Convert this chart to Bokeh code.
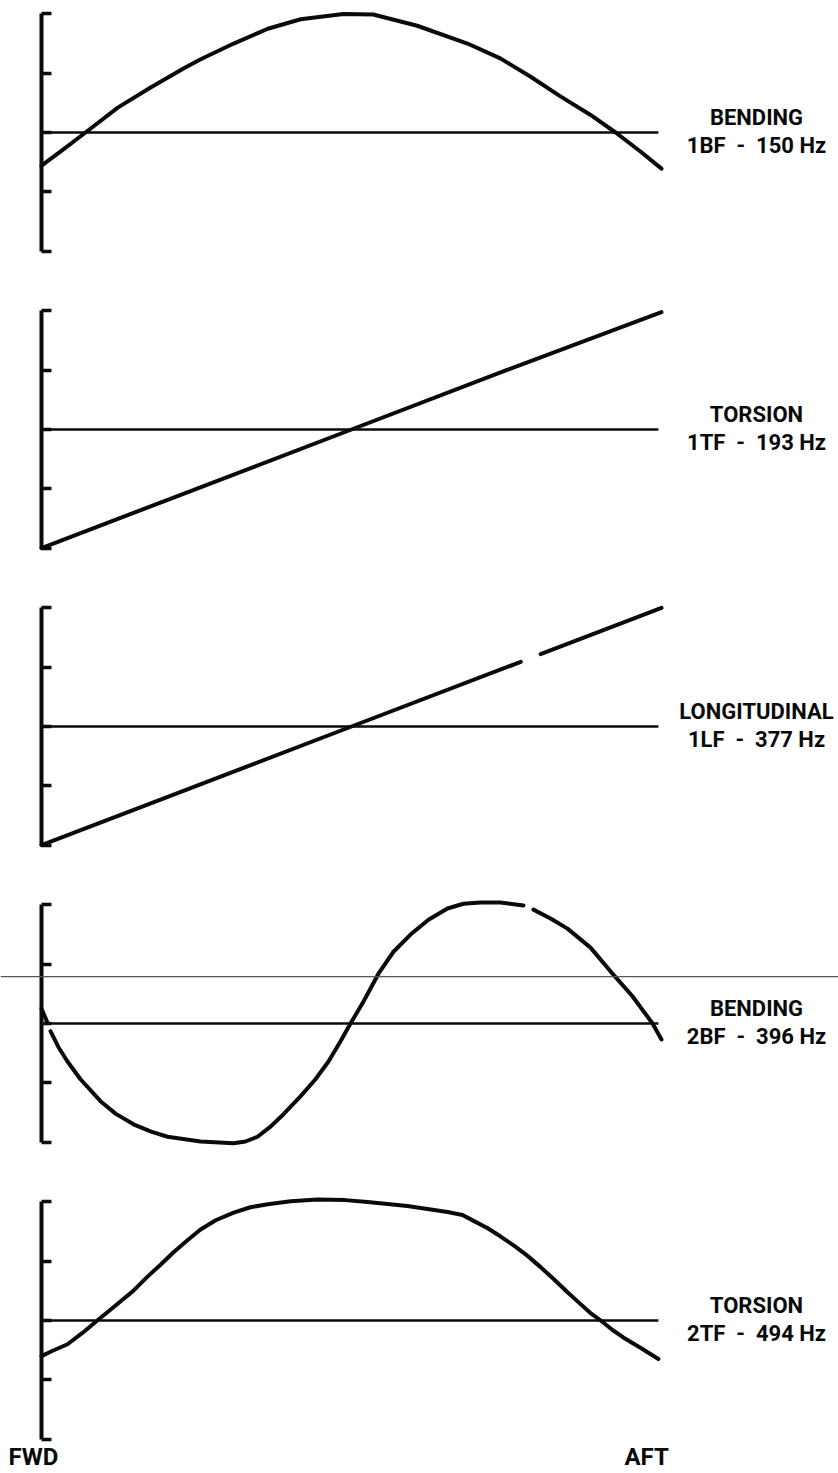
from bokeh.plotting import figure
from bokeh.layouts import column
from bokeh.models import LinearAxis, FixedTicker, Span, Range1d, ColumnDataSource
from bokeh.core.properties import value
from bokeh.embed import file_html
from bokeh.resources import INLINE

nan = float("nan")

# Stations along the blade, percent of span from FWD (0) to AFT (100),
# and normalized modal deflection in tick units (full scale = +/-2).
bend1_x = [0, 3.1, 7.1, 12.3, 17.6, 22.9, 25.6, 31.0, 36.5, 41.8, 48.7, 53.5, 60.6, 68.7,
           74.0, 78.9, 83.7, 88.5, 92.6, 96.6, 100]
bend1_y = [-0.56, -0.32, 0.0, 0.42, 0.76, 1.08, 1.23, 1.50, 1.75, 1.91, 2.0, 1.99, 1.80, 1.50,
           1.25, 0.94, 0.61, 0.30, 0.0, -0.32, -0.61]

tors1_x = [0, 25, 50, 75, 100]
tors1_y = [-2.0, -1.0, 0.0, 1.0, 1.98]

long1_x = [0, 25, 50, 77.3, nan, 80.5, 100]
long1_y = [-2.0, -1.0, 0.0, 1.09, nan, 1.22, 2.0]

bend2_x = [0, 0.9, nan, 1.45, 2.74, 4.19, 6.29, 9.52, 11.94, 14.84, 17.58, 20.32, 25.65, 30.97,
           32.90, 34.84, 36.94, 39.03, 41.77, 44.19, 46.29, 48.23, 49.84, 51.94, 54.35, 56.77,
           59.52, 62.42, 65.48, 68.06, 70.81, 74.03, 77.74, nan, 79.35, 82.10, 84.84, 88.55,
           91.77, 95.32, 98.55, 100]
bend2_y = [0.25, 0.03, nan, -0.13, -0.40, -0.64, -0.94, -1.31, -1.52, -1.70, -1.82, -1.91, -1.99, -2.02,
           -1.99, -1.91, -1.74, -1.53, -1.23, -0.94, -0.64, -0.30, 0.0, 0.37, 0.84, 1.21,
           1.50, 1.75, 1.94, 2.02, 2.04, 2.04, 1.99, nan, 1.92, 1.77, 1.60, 1.28,
           0.88, 0.46, 0.0, -0.27]

tors2_x = [0, 1.8, 4.2, 6.6, 9.0, 11.9, 14.8, 17.1, 19.2, 21.3, 23.5, 25.6, 28.1, 31.0, 33.7, 36.5,
           40.2, 44.5, 49.0, 52.6, 59.0, 65.5, 67.9, 69.7, 71.9, 74.0, 76.1, 78.4, 80.5, 82.6,
           84.8, 86.9, 88.5, 90.2, 92.1, 93.9, 96.6, 99.5]
tors2_y = [-0.60, -0.51, -0.40, -0.21, 0.0, 0.25, 0.50, 0.74, 0.94, 1.15, 1.35, 1.53, 1.69, 1.82, 1.91, 1.96,
           2.01, 2.04, 2.03, 2.0, 1.93, 1.83, 1.78, 1.68, 1.56, 1.42, 1.27, 1.09, 0.90, 0.70,
           0.48, 0.28, 0.13, 0.0, -0.16, -0.29, -0.46, -0.65]

mode_names = ["BENDING", "TORSION", "LONGITUDINAL", "BENDING", "TORSION"]
mode_freqs = ["1BF\u00a0 -\u00a0 150 Hz", "1TF\u00a0 -\u00a0 193 Hz", "1LF\u00a0 -\u00a0 377 Hz",
              "2BF\u00a0 -\u00a0 396 Hz", "2TF\u00a0 -\u00a0 494 Hz"]
mode_x = [bend1_x, tors1_x, long1_x, bend2_x, tors2_x]
mode_y = [bend1_y, tors1_y, long1_y, bend2_y, tors2_y]

scale_ticks = [-2, -1, 0, 1, 2]
baseline_end = 99.5
end_labels = ["FWD", "AFT"]
end_label_x = [-1.3, 97.6]
end_label_y = -2.31

# page geometry (pixels)
W = 838
LEFT = 41
SPAN_PX = 620.0
PX_PER_UNIT = 59.3
ZERO_FROM_TOP = 132
PANEL_H = [297, 297, 297, 297, 285]

X_HI = (W - LEFT) / SPAN_PX * 100
X_LO = -LEFT / SPAN_PX * 100
LABEL_X = (756 - LEFT) / SPAN_PX * 100

FONT = value("Roboto")
INK = "#0a0a0a"


def mode_panel(xs, ys, name, freq, height, rule_at=None):
    p = figure(width=W, height=height,
               x_range=Range1d(X_LO, X_HI),
               y_range=Range1d(-(height - ZERO_FROM_TOP) / PX_PER_UNIT, ZERO_FROM_TOP / PX_PER_UNIT),
               x_axis_type=None, y_axis_type=None,
               toolbar_location=None, output_backend="svg",
               min_border=0,
               outline_line_color=None, background_fill_color="white", border_fill_color="white")

    # bracket-style deflection scale standing at the FWD station
    ax = LinearAxis(ticker=FixedTicker(ticks=scale_ticks), bounds=(-2, 2), fixed_location=0,
                    major_tick_in=10, major_tick_out=0, minor_tick_line_color=None,
                    major_label_overrides={t: "" for t in scale_ticks}, major_label_standoff=0,
                    axis_line_width=4, axis_line_color=INK,
                    major_tick_line_width=3.5, major_tick_line_color=INK)
    p.add_layout(ax, "left")

    if rule_at is not None:
        p.add_layout(Span(location=rule_at, dimension="width", line_width=1.2, line_color="#555555"))

    p.segment(x0=[0], y0=[0], x1=[baseline_end], y1=[0], line_width=2.3, line_color=INK)
    p.line(xs, ys, line_width=4, line_color=INK, line_cap="round", line_join="round")

    src = ColumnDataSource(dict(x=[LABEL_X, LABEL_X], y=[0.25, -0.22], t=[name, freq]))
    p.text(x="x", y="y", text="t", source=src, text_align="center", text_baseline="middle",
           text_font=FONT, text_font_style="bold", text_font_size="22px", text_color=INK)
    return p


panels = []
for i in range(5):
    rule = 0.79 if i == 3 else None
    panels.append(mode_panel(mode_x[i], mode_y[i], mode_names[i], mode_freqs[i], PANEL_H[i], rule))

# blade end markers under the last panel
panels[-1].text(x=end_label_x, y=[end_label_y] * 2, text=end_labels, text_align="center",
                text_baseline="middle", text_font=FONT, text_font_style="bold",
                text_font_size="24px", text_color=INK)

layout = column(*panels, spacing=0)
open("out.html", "w").write(file_html(layout, INLINE))
